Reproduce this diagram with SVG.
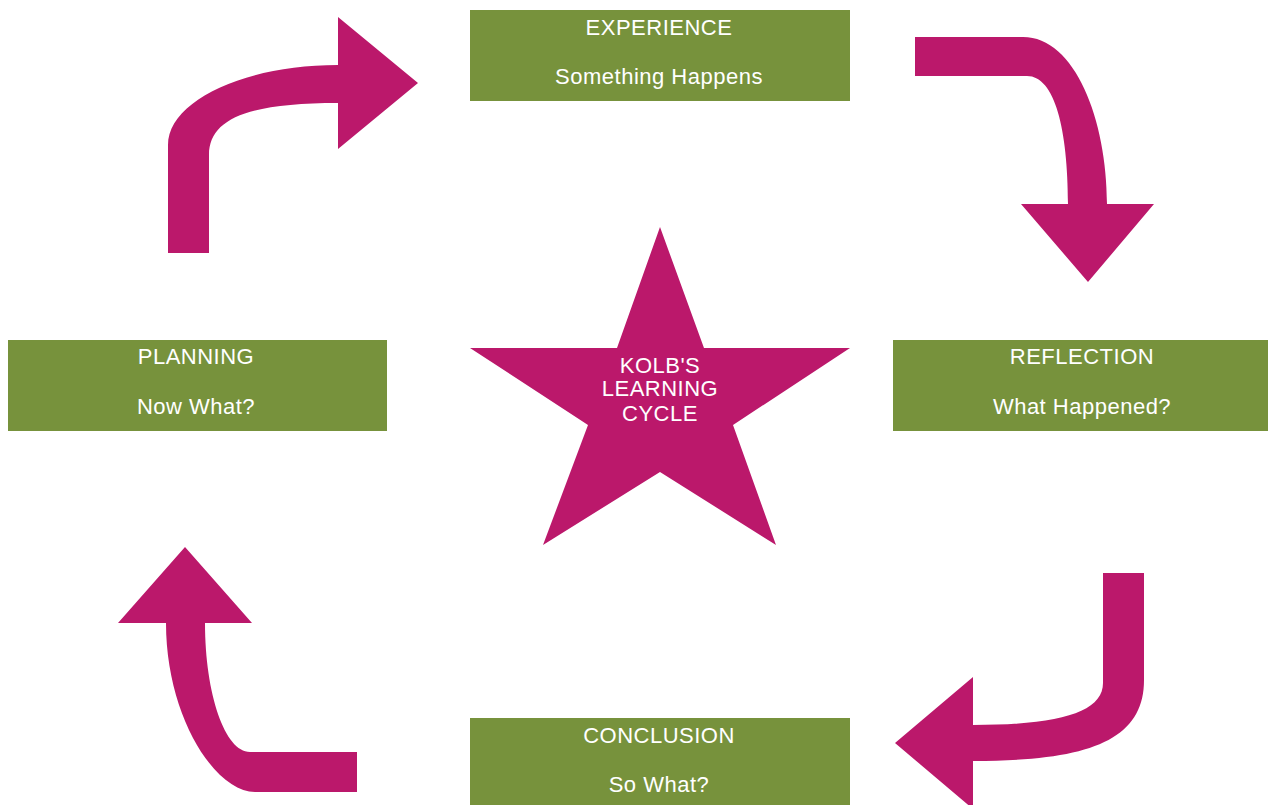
<svg xmlns="http://www.w3.org/2000/svg" width="1268" height="805" viewBox="0 0 1268 805">
  <style>
    .box { fill: #77923c; }
    .lbl { font-family: "Liberation Sans", Arial, sans-serif; font-size: 22px; letter-spacing: 0.5px; fill: #ffffff; text-anchor: middle; }
    .arrow { fill: #bb186b; }
  </style>
  <rect width="1268" height="805" fill="#ffffff"/>

  <!-- curved arrows between the stages -->
  <g id="connectors">
    <!-- planning -> experience -->
    <path class="arrow" d="M168,253 L168,145 C168,101 244,65 338,65 L338,17 L418,83 L338,149 L338,103 C250,103 209,118 209,155 L209,253 Z"/>
    <!-- experience -> reflection -->
    <path class="arrow" d="M915,37 L1023,37 C1075,37 1107,120 1107,204 L1154,204 L1088,282 L1021,204 L1068,204 C1068,130 1055,76 1027,76 L915,76 Z"/>
    <!-- reflection -> conclusion -->
    <path class="arrow" d="M1103,573 L1144,573 L1144,680 C1144,740 1090,761 973,761 L973,809 L895,743 L973,677 L973,725 C1060,725 1103,712 1103,683 Z"/>
    <!-- conclusion -> planning -->
    <path class="arrow" d="M357,792 L255,792 C215,792 166,716 166,623 L118,623 L185,547 L252,623 L205,623 C205,694 225,752 250,752 L357,752 Z"/>
  </g>

  <g id="experience">
    <rect class="box" x="470" y="10" width="380" height="91"/>
    <text class="lbl" x="659" y="35">EXPERIENCE</text>
    <text class="lbl" x="659" y="84">Something Happens</text>
  </g>

  <g id="reflection">
    <rect class="box" x="893" y="340" width="375" height="91"/>
    <text class="lbl" x="1082" y="364">REFLECTION</text>
    <text class="lbl" x="1082" y="414">What Happened?</text>
  </g>

  <g id="conclusion">
    <rect class="box" x="470" y="718" width="380" height="87"/>
    <text class="lbl" x="659" y="743">CONCLUSION</text>
    <text class="lbl" x="659" y="792">So What?</text>
  </g>

  <g id="planning">
    <rect class="box" x="8" y="340" width="379" height="91"/>
    <text class="lbl" x="196" y="364">PLANNING</text>
    <text class="lbl" x="196" y="414">Now What?</text>
  </g>

  <g id="kolb">
    <polygon class="arrow" points="660,227 704,348 850,348 733,425 776,545 660,472 543,545 588,425 470,348 617,348"/>
    <text class="lbl" x="660" y="373">KOLB'S</text>
    <text class="lbl" x="660" y="396">LEARNING</text>
    <text class="lbl" x="660" y="421">CYCLE</text>
  </g>
</svg>
